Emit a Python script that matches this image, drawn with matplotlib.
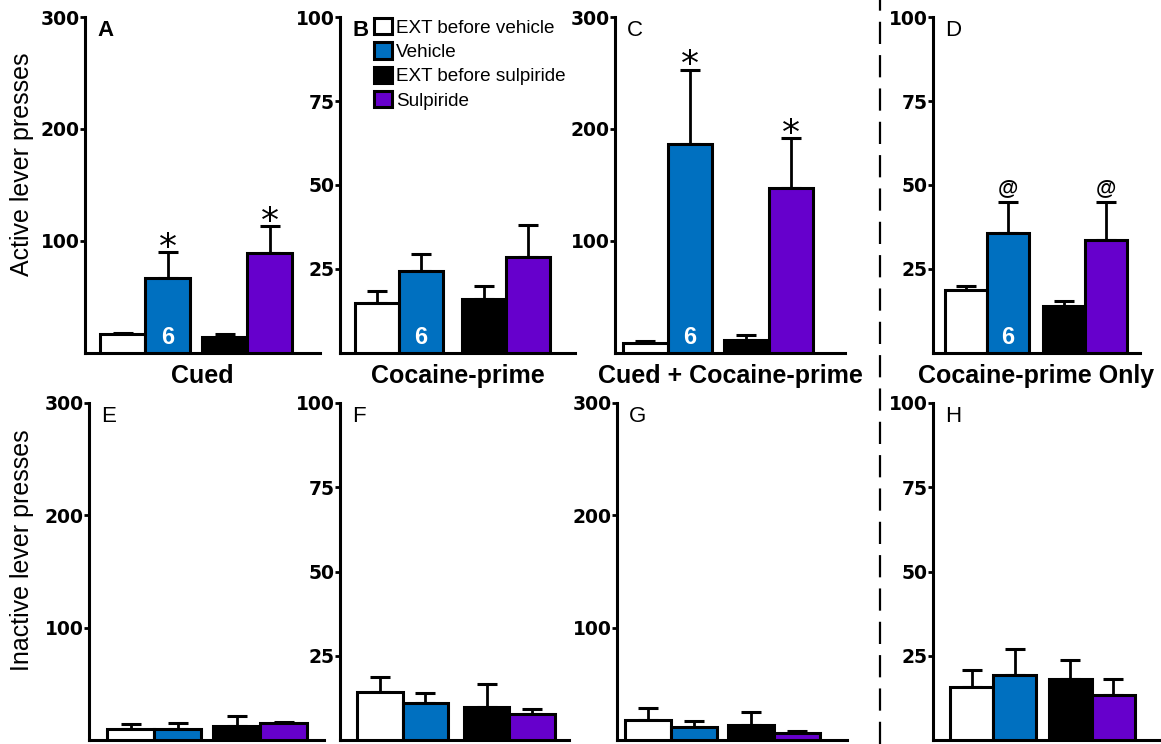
import matplotlib
matplotlib.use("Agg")
import matplotlib.pyplot as plt
from matplotlib.lines import Line2D

W, H = 1161, 744
fig = plt.figure(figsize=(W / 100, H / 100), dpi=100)
fig.patch.set_facecolor("white")

# ---------------- data ----------------
groups = ["EXT before vehicle", "Vehicle", "EXT before sulpiride", "Sulpiride"]
colors = ["#FFFFFF", "#0070C0", "#000000", "#6600CC"]

panel_letters = ["A", "B", "C", "D", "E", "F", "G", "H"]
conditions = ["Cued", "Cocaine-prime", "Cued + Cocaine-prime", "Cocaine-prime Only"]

active_means = {
    "A": [17, 67, 14, 89],
    "B": [15, 24.4, 16, 28.5],
    "C": [9, 186.5, 12, 147],
    "D": [18.7, 35.6, 14, 33.5],
}
active_sem = {
    "A": [1, 23, 3, 24],
    "B": [3.4, 5, 4, 9.5],
    "C": [2, 66.5, 4, 45],
    "D": [1.3, 9.4, 1.5, 11.5],
}
inactive_means = {
    "E": [10, 10, 12.5, 15],
    "F": [14.3, 11, 9.8, 7.6],
    "G": [18, 11.6, 13.4, 6.3],
    "H": [15.7, 19.3, 18.1, 13.4],
}
inactive_sem = {
    "E": [4, 5, 8.5, 1],
    "F": [4.4, 3, 6.7, 1.6],
    "G": [10.6, 5.4, 11.6, 1.7],
    "H": [5.1, 7.7, 5.6, 4.7],
}
sig_marks = {
    "A": ["", "*", "", "*"],
    "C": ["", "*", "", "*"],
    "D": ["", "@", "", "@"],
}
n_label = "6"
ymax_big = 300
ymax_small = 100
ticks_big = [100, 200, 300]
ticks_small = [25, 50, 75, 100]

# ---------------- layout (pixels) ----------------
# L, R, first bar left, bar width px, gap (units)
layout = {
    "A": (85, 320, 100, 45, 0.27),
    "B": (340, 575, 355, 44, 0.43),
    "C": (615, 845, 623, 44.5, 0.27),
    "D": (933, 1140, 945, 42, 0.33),
    "E": (89, 324, 107, 47, 0.26),
    "F": (340, 569, 357, 45.5, 0.35),
    "G": (617, 847, 625, 46, 0.24),
    "H": (933, 1160, 950, 43, 0.30),
}
row_top = {"top": (17, 353), "bottom": (403, 740)}

TICK_FONT = "DejaVu Sans"
TXT_FONT = "Liberation Sans"


def make_axes(letter, means, sems, ymax, ticks, row):
    L, R, first, w, gap = layout[letter]
    top, bot = row_top[row]
    ax = fig.add_axes([L / W, 1 - bot / H, (R - L) / W, (bot - top) / H])
    xs = [0, 1, 2 + gap, 3 + gap]
    bars = ax.bar(xs, means, width=1.0, align="edge", color=colors,
                  edgecolor="black", linewidth=2.2, zorder=3)
    centers = [x + 0.5 for x in xs]
    ax.errorbar(centers, means, yerr=[[0] * 4, sems], fmt="none",
                ecolor="black", elinewidth=2.0, capsize=7, capthick=2.2,
                zorder=2)
    ax.set_xlim((L - first) / w, (R - first) / w)
    ax.set_ylim(0, ymax)
    ax.set_yticks(ticks)
    ax.set_yticklabels([str(t) for t in ticks], fontfamily=TICK_FONT,
                       fontweight="bold", fontsize=13.5)
    ax.tick_params(axis="y", length=3.5, width=2, pad=0.5, direction="out")
    ax.set_xticks([])
    for s in ["top", "right"]:
        ax.spines[s].set_visible(False)
    for s in ["left", "bottom"]:
        ax.spines[s].set_linewidth(2.2)
    ax.patch.set_alpha(0)
    # panel letter
    bold = "bold" if letter in ("A", "B") else "normal"
    ax.text(12 / (R - L), 1 - 3 / (bot - top), letter,
            transform=ax.transAxes, ha="left", va="top",
            fontfamily=TXT_FONT, fontweight=bold, fontsize=16)
    # significance marks
    if letter in sig_marks:
        for c, m, s, mk in zip(centers, means, sems, sig_marks[letter]):
            if mk == "*":
                ax.annotate(mk, xy=(c, m + s), xytext=(0, -4),
                            textcoords="offset points", ha="center",
                            va="baseline", fontsize=26, fontfamily="DejaVu Sans")
            elif mk == "@":
                ax.annotate(mk, xy=(c, m + s), xytext=(0, 6.5),
                            textcoords="offset points", ha="center",
                            va="baseline", fontsize=15, fontweight="bold",
                            fontfamily=TXT_FONT)
    return ax, bars, centers


handles = None
for i, letter in enumerate(["A", "B", "C", "D"]):
    big = letter in ("A", "C")
    ax, bars, centers = make_axes(letter, active_means[letter], active_sem[letter],
                                  ymax_big if big else ymax_small,
                                  ticks_big if big else ticks_small, "top")
    ax.annotate(n_label, xy=(centers[1], 0), xytext=(0, 11.5),
                textcoords="offset points", ha="center", va="center",
                color="white", fontsize=17, fontweight="bold",
                fontfamily=TXT_FONT, zorder=5)
    L, R = layout[letter][0], layout[letter][1]
    fig.text(((L + R) / 2) / W, 1 - 383 / H, conditions[i], ha="center",
             va="baseline", fontfamily=TXT_FONT, fontweight="bold", fontsize=18)
    if letter == "B":
        handles = bars

for letter in ["E", "F", "G", "H"]:
    big = letter in ("E", "G")
    make_axes(letter, inactive_means[letter], inactive_sem[letter],
              ymax_big if big else ymax_small,
              ticks_big if big else ticks_small, "bottom")

# legend
fig.legend(handles, groups, loc="upper left",
           bbox_to_anchor=(374 / W, 1 - 18 / H), frameon=False,
           prop={"family": TXT_FONT, "size": 13.6}, handlelength=0.95,
           handleheight=0.95, handletextpad=0.2, labelspacing=0.3,
           borderpad=0, borderaxespad=0)

# y labels
fig.text(22 / W, 1 - 164 / H, "Active lever presses", rotation=90,
         ha="center", va="center", fontfamily=TXT_FONT, fontsize=18)
fig.text(22 / W, 1 - 550 / H, "Inactive lever presses", rotation=90,
         ha="center", va="center", fontfamily=TXT_FONT, fontsize=18)

# dashed separator
fig.add_artist(Line2D([880 / W, 880 / W], [0, 1], transform=fig.transFigure,
                      color="black", linewidth=1.6, linestyle=(0, (10, 5))))

fig.savefig("out.png", dpi=100, facecolor="white")
